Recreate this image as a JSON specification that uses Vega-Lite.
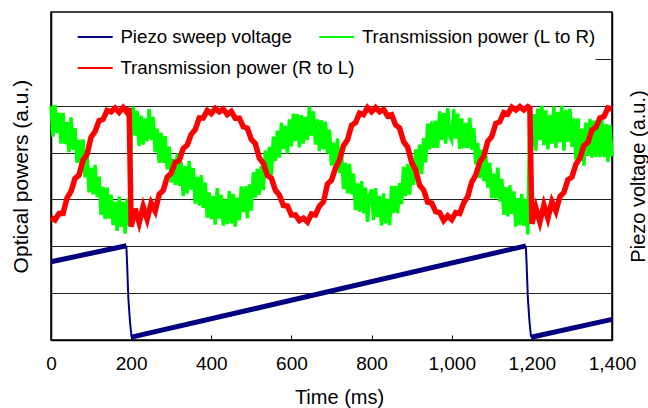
{
 "$schema": "https://vega.github.io/schema/vega-lite/v6.json",
 "width": 561,
 "height": 328,
 "autosize": {"type": "none"},
 "padding": {"left": 51, "top": 12, "right": 36, "bottom": 68},
 "background": "white",
 "config": {
  "view": {"stroke": "black", "strokeWidth": 1.5},
  "font": "Liberation Sans",
  "axis": {"domainColor": "black", "domainWidth": 1.5, "labelColor": "black", "titleColor": "black", "labelFont": "Liberation Sans", "titleFont": "Liberation Sans", "titleFontWeight": "normal", "labelFontSize": 19, "titleFontSize": 20, "gridColor": "#222222", "gridWidth": 1, "gridOpacity": 1}
 },
 "datasets": {
  "piezo": [
   {"seg": "ramp1", "t": 0, "v": 1.67}, {"seg": "ramp1", "t": 188, "v": 2.01},
   {"seg": "drop1", "t": 188, "v": 2.01}, {"seg": "drop1", "t": 190, "v": 1.6}, {"seg": "drop1", "t": 193, "v": 0.9}, {"seg": "drop1", "t": 197, "v": 0.4}, {"seg": "drop1", "t": 201, "v": 0.06},
   {"seg": "ramp2", "t": 201, "v": 0.06}, {"seg": "ramp2", "t": 1185, "v": 2.01},
   {"seg": "drop2", "t": 1185, "v": 2.01}, {"seg": "drop2", "t": 1187, "v": 1.6}, {"seg": "drop2", "t": 1190, "v": 0.9}, {"seg": "drop2", "t": 1194, "v": 0.4}, {"seg": "drop2", "t": 1198, "v": 0.06},
   {"seg": "ramp3", "t": 1198, "v": 0.06}, {"seg": "ramp3", "t": 1400, "v": 0.44}
  ],
  "ltor": [
   {"t":0,"v":4.99},{"t":5,"v":4.34},{"t":10,"v":5.02},{"t":15,"v":4.42},{"t":20,"v":4.85},{"t":25,"v":4.19},{"t":30,"v":4.85},{"t":35,"v":4.18},{"t":40,"v":4.65},{"t":45,"v":4.01},{"t":50,"v":4.75},{"t":55,"v":4.06},{"t":60,"v":4.52},{"t":65,"v":3.78},{"t":70,"v":4.27},{"t":75,"v":3.65},{"t":80,"v":4.28},{"t":85,"v":3.47},{"t":90,"v":3.96},{"t":95,"v":3.15},{"t":100,"v":3.68},{"t":105,"v":3.11},{"t":110,"v":3.74},{"t":115,"v":3.06},{"t":120,"v":3.49},{"t":125,"v":2.67},{"t":130,"v":3.27},{"t":135,"v":2.58},{"t":140,"v":3.25},{"t":145,"v":2.59},{"t":150,"v":3.10},{"t":155,"v":2.45},{"t":160,"v":2.95},{"t":165,"v":2.33},{"t":170,"v":3.06},{"t":175,"v":2.41},{"t":180,"v":2.95},{"t":185,"v":2.27},{"t":190,"v":3.02},{"t":195,"v":2.44},
   {"t":200,"v":4.30},{"t":205,"v":4.98},{"t":210,"v":4.36},{"t":215,"v":4.89},{"t":220,"v":4.14},{"t":225,"v":4.79},{"t":230,"v":4.17},{"t":235,"v":4.73},{"t":240,"v":4.24},{"t":245,"v":4.93},{"t":250,"v":4.27},{"t":255,"v":4.76},{"t":260,"v":4.01},{"t":265,"v":4.51},{"t":270,"v":3.78},{"t":275,"v":4.42},{"t":280,"v":3.78},{"t":285,"v":4.35},{"t":290,"v":3.64},{"t":295,"v":4.13},{"t":300,"v":3.36},{"t":305,"v":3.86},{"t":310,"v":3.31},{"t":315,"v":3.98},{"t":320,"v":3.29},{"t":325,"v":3.79},{"t":330,"v":3.07},{"t":335,"v":3.71},{"t":340,"v":3.13},{"t":345,"v":3.82},{"t":350,"v":3.21},{"t":355,"v":3.67},{"t":360,"v":2.91},{"t":365,"v":3.48},{"t":370,"v":2.87},{"t":375,"v":3.52},{"t":380,"v":2.82},{"t":385,"v":3.36},{"t":390,"v":2.61},{"t":395,"v":3.15},
   {"t":400,"v":2.58},{"t":405,"v":3.07},{"t":410,"v":2.46},{"t":415,"v":3.24},{"t":420,"v":2.59},{"t":425,"v":3.10},{"t":430,"v":2.44},{"t":435,"v":3.00},{"t":440,"v":2.47},{"t":445,"v":3.18},{"t":450,"v":2.49},{"t":455,"v":3.12},{"t":460,"v":2.42},{"t":465,"v":3.04},{"t":470,"v":2.56},{"t":475,"v":3.28},{"t":480,"v":2.73},{"t":485,"v":3.28},{"t":490,"v":2.60},{"t":495,"v":3.32},{"t":500,"v":2.76},{"t":505,"v":3.58},{"t":510,"v":3.04},{"t":515,"v":3.65},{"t":520,"v":3.10},{"t":525,"v":3.71},{"t":530,"v":3.20},{"t":535,"v":4.04},{"t":540,"v":3.49},{"t":545,"v":4.12},{"t":550,"v":3.52},{"t":555,"v":4.34},{"t":560,"v":3.82},{"t":565,"v":4.47},{"t":570,"v":3.89},{"t":575,"v":4.64},{"t":580,"v":4.08},{"t":585,"v":4.57},{"t":590,"v":3.98},{"t":595,"v":4.71},
   {"t":600,"v":4.13},{"t":605,"v":4.83},{"t":610,"v":4.25},{"t":615,"v":4.82},{"t":620,"v":4.11},{"t":625,"v":4.80},{"t":630,"v":4.19},{"t":635,"v":4.76},{"t":640,"v":4.27},{"t":645,"v":4.98},{"t":650,"v":4.36},{"t":655,"v":4.88},{"t":660,"v":4.17},{"t":665,"v":4.71},{"t":670,"v":4.03},{"t":675,"v":4.69},{"t":680,"v":4.07},{"t":685,"v":4.66},{"t":690,"v":3.98},{"t":695,"v":4.49},{"t":700,"v":3.72},{"t":705,"v":4.21},{"t":710,"v":3.65},{"t":715,"v":4.30},{"t":720,"v":3.56},{"t":725,"v":4.01},{"t":730,"v":3.22},{"t":735,"v":3.78},{"t":740,"v":3.13},{"t":745,"v":3.76},{"t":750,"v":3.11},{"t":755,"v":3.55},{"t":760,"v":2.77},{"t":765,"v":3.34},{"t":770,"v":2.74},{"t":775,"v":3.39},{"t":780,"v":2.70},{"t":785,"v":3.25},{"t":790,"v":2.52},{"t":795,"v":3.09},
   {"t":800,"v":3.21},{"t":805,"v":2.56},{"t":810,"v":3.24},{"t":815,"v":2.63},{"t":820,"v":3.07},{"t":825,"v":2.44},{"t":830,"v":3.13},{"t":835,"v":2.49},{"t":840,"v":3.01},{"t":845,"v":2.45},{"t":850,"v":3.29},{"t":855,"v":2.71},{"t":860,"v":3.29},{"t":865,"v":2.70},{"t":870,"v":3.35},{"t":875,"v":2.90},{"t":880,"v":3.70},{"t":885,"v":3.07},{"t":890,"v":3.76},{"t":895,"v":3.10},{"t":900,"v":3.76},{"t":905,"v":3.31},{"t":910,"v":4.07},{"t":915,"v":3.56},{"t":920,"v":4.17},{"t":925,"v":3.54},{"t":930,"v":4.31},{"t":935,"v":3.79},{"t":940,"v":4.62},{"t":945,"v":4.07},{"t":950,"v":4.66},{"t":955,"v":4.10},{"t":960,"v":4.68},{"t":965,"v":4.10},{"t":970,"v":4.88},{"t":975,"v":4.27},{"t":980,"v":4.84},{"t":985,"v":4.19},{"t":990,"v":4.95},{"t":995,"v":4.35},
   {"t":1000,"v":4.26},{"t":1005,"v":4.92},{"t":1010,"v":4.30},{"t":1015,"v":4.83},{"t":1020,"v":4.08},{"t":1025,"v":4.73},{"t":1030,"v":4.09},{"t":1035,"v":4.63},{"t":1040,"v":4.10},{"t":1045,"v":4.74},{"t":1050,"v":4.06},{"t":1055,"v":4.53},{"t":1060,"v":3.75},{"t":1065,"v":4.21},{"t":1070,"v":3.46},{"t":1075,"v":4.06},{"t":1080,"v":3.39},{"t":1085,"v":3.94},{"t":1090,"v":3.25},{"t":1095,"v":3.78},{"t":1100,"v":3.03},{"t":1105,"v":3.55},{"t":1110,"v":3.02},{"t":1115,"v":3.68},{"t":1120,"v":2.96},{"t":1125,"v":3.44},{"t":1130,"v":2.67},{"t":1135,"v":3.26},{"t":1140,"v":2.64},{"t":1145,"v":3.30},{"t":1150,"v":2.69},{"t":1155,"v":3.17},{"t":1160,"v":2.42},{"t":1165,"v":3.03},{"t":1170,"v":2.45},{"t":1175,"v":3.12},{"t":1180,"v":2.44},{"t":1185,"v":3.01},{"t":1190,"v":2.25},
   {"t":1195,"v":4.97},{"t":1200,"v":4.12},{"t":1205,"v":4.82},{"t":1210,"v":4.04},{"t":1215,"v":4.94},{"t":1220,"v":4.27},{"t":1225,"v":5.00},{"t":1230,"v":4.16},{"t":1235,"v":4.90},{"t":1240,"v":4.07},{"t":1245,"v":4.80},{"t":1250,"v":4.19},{"t":1255,"v":4.98},{"t":1260,"v":4.10},{"t":1265,"v":4.87},{"t":1270,"v":4.22},{"t":1275,"v":5.00},{"t":1280,"v":4.04},{"t":1285,"v":4.91},{"t":1290,"v":4.23},{"t":1295,"v":4.94},{"t":1300,"v":4.12},{"t":1305,"v":4.73},{"t":1310,"v":3.85},{"t":1315,"v":4.73},{"t":1320,"v":3.88},{"t":1325,"v":4.51},{"t":1330,"v":3.72},{"t":1335,"v":4.64},{"t":1340,"v":3.93},{"t":1345,"v":4.72},{"t":1350,"v":3.89},{"t":1355,"v":4.68},{"t":1360,"v":3.91},{"t":1365,"v":4.61},{"t":1370,"v":3.90},{"t":1375,"v":4.70},{"t":1380,"v":3.90},{"t":1385,"v":4.61},{"t":1390,"v":3.80},{"t":1395,"v":4.59},{"t":1400,"v":3.92}
  ],
  "rtol": [
   {"t":0,"v":2.61},{"t":10,"v":2.56},{"t":20,"v":2.70},{"t":30,"v":2.70},{"t":40,"v":3.03},{"t":50,"v":3.17},{"t":60,"v":3.45},{"t":70,"v":3.52},{"t":80,"v":3.84},{"t":90,"v":3.96},{"t":100,"v":4.33},{"t":110,"v":4.45},{"t":120,"v":4.68},{"t":130,"v":4.71},{"t":140,"v":4.90},{"t":150,"v":4.87},{"t":160,"v":4.95},{"t":170,"v":4.86},{"t":180,"v":4.96},{"t":190,"v":4.85},{"t":195,"v":4.95},
   {"t":200,"v":2.42},{"t":210,"v":2.80},{"t":220,"v":2.50},{"t":230,"v":2.85},{"t":240,"v":2.58},{"t":250,"v":2.92},{"t":260,"v":2.75},{"t":270,"v":3.11},{"t":280,"v":3.19},{"t":290,"v":3.48},{"t":300,"v":3.56},{"t":310,"v":3.79},{"t":320,"v":3.83},{"t":330,"v":4.09},{"t":340,"v":4.16},{"t":350,"v":4.39},{"t":360,"v":4.49},{"t":370,"v":4.74},{"t":380,"v":4.74},{"t":390,"v":4.90},{"t":400,"v":4.83},{"t":410,"v":4.94},{"t":420,"v":4.87},{"t":430,"v":4.93},{"t":440,"v":4.81},{"t":450,"v":4.88},{"t":460,"v":4.73},{"t":470,"v":4.73},{"t":480,"v":4.55},{"t":490,"v":4.52},{"t":500,"v":4.28},{"t":510,"v":4.19},{"t":520,"v":3.88},{"t":530,"v":3.77},{"t":540,"v":3.51},{"t":550,"v":3.45},{"t":560,"v":3.20},{"t":570,"v":3.09},{"t":580,"v":2.87},{"t":590,"v":2.86},
   {"t":600,"v":2.67},{"t":610,"v":2.67},{"t":620,"v":2.55},{"t":630,"v":2.60},{"t":640,"v":2.52},{"t":650,"v":2.69},{"t":660,"v":2.67},{"t":670,"v":2.86},{"t":680,"v":2.95},{"t":690,"v":3.33},{"t":700,"v":3.41},{"t":710,"v":3.67},{"t":720,"v":3.84},{"t":730,"v":4.15},{"t":740,"v":4.27},{"t":750,"v":4.58},{"t":760,"v":4.64},{"t":770,"v":4.84},{"t":780,"v":4.81},{"t":790,"v":4.96},{"t":800,"v":4.87},{"t":810,"v":4.96},{"t":820,"v":4.87},{"t":830,"v":4.92},{"t":840,"v":4.78},{"t":850,"v":4.81},{"t":860,"v":4.59},{"t":870,"v":4.52},{"t":880,"v":4.23},{"t":890,"v":4.12},{"t":900,"v":3.79},{"t":910,"v":3.63},{"t":920,"v":3.30},{"t":930,"v":3.20},{"t":940,"v":2.94},{"t":950,"v":2.92},{"t":960,"v":2.74},{"t":970,"v":2.72},{"t":980,"v":2.55},{"t":990,"v":2.65},
   {"t":1000,"v":2.57},{"t":1010,"v":2.72},{"t":1020,"v":2.70},{"t":1030,"v":2.93},{"t":1040,"v":3.06},{"t":1050,"v":3.37},{"t":1060,"v":3.52},{"t":1070,"v":3.80},{"t":1080,"v":3.92},{"t":1090,"v":4.24},{"t":1100,"v":4.34},{"t":1110,"v":4.62},{"t":1120,"v":4.66},{"t":1130,"v":4.85},{"t":1140,"v":4.82},{"t":1150,"v":4.97},{"t":1160,"v":4.91},{"t":1170,"v":4.98},{"t":1180,"v":4.91},{"t":1190,"v":4.98},{"t":1195,"v":4.95},
   {"t":1200,"v":2.48},{"t":1210,"v":2.82},{"t":1220,"v":2.52},{"t":1230,"v":2.88},{"t":1240,"v":2.60},{"t":1250,"v":2.95},{"t":1260,"v":2.75},{"t":1270,"v":3.06},{"t":1280,"v":3.15},{"t":1290,"v":3.42},{"t":1300,"v":3.48},{"t":1310,"v":3.75},{"t":1320,"v":3.88},{"t":1330,"v":4.15},{"t":1340,"v":4.22},{"t":1350,"v":4.48},{"t":1360,"v":4.54},{"t":1370,"v":4.74},{"t":1380,"v":4.77},{"t":1390,"v":4.95},{"t":1400,"v":4.93}
  ]
 },
 "encoding": {
  "x": {"field": "t", "type": "quantitative", "scale": {"domain": [0, 1400], "nice": false},
   "axis": {"title": "Time (ms)", "values": [0, 200, 400, 600, 800, 1000, 1200, 1400], "format": ",d", "grid": false, "tickSize": -5, "tickColor": "black", "tickWidth": 1, "labelPadding": 19, "titlePadding": 14, "titleX": 288, "labelFlush": false}}
 },
 "layer": [
  {
   "data": {"name": "piezo"},
   "mark": {"type": "line", "strokeCap": "butt"},
   "encoding": {
    "y": {"field": "v", "type": "quantitative", "scale": {"domain": [0, 7], "nice": false},
     "axis": {"orient": "right", "title": "Piezo voltage (a.u.)", "labels": false, "grid": false, "values": [6], "ticks": true, "tickSize": -17, "tickColor": "#222222", "tickWidth": 1, "titleAngle": 270, "titleBaseline": "top", "titlePadding": 16, "titleFontSize": 20}},
    "detail": {"field": "seg"},
    "color": {"datum": "Piezo sweep voltage", "type": "nominal",
     "scale": {"domain": ["Piezo sweep voltage", "Transmission power (L to R)"], "range": ["#000080", "#00ff00"]},
     "legend": {"title": null, "orient": "none", "legendX": 20.7, "legendY": 1.2, "direction": "horizontal", "symbolType": "stroke", "symbolSize": 1225, "symbolStrokeWidth": 2, "labelFontSize": 18.7, "labelFont": "Liberation Sans", "labelColor": "black", "labelOffset": 6.7, "columnPadding": 22.5, "padding": 5, "labelLimit": 0}},
    "strokeWidth": {"condition": {"test": "indexof(datum.seg, 'drop') == 0", "value": 2}, "value": 5}
   }
  },
  {
   "layer": [
    {
     "data": {"name": "ltor"},
     "mark": {"type": "line", "strokeWidth": 3.5},
     "encoding": {
      "y": {"field": "v", "type": "quantitative", "scale": {"domain": [0, 7], "nice": false},
       "axis": {"title": "Optical powers (a.u.)", "labels": false, "ticks": false, "grid": true, "values": [1, 2, 3, 4, 5], "titlePadding": 20, "titleFontSize": 21}},
      "color": {"datum": "Transmission power (L to R)", "type": "nominal"}
     }
    },
    {
     "data": {"name": "rtol"},
     "mark": {"type": "line", "strokeWidth": 5.5},
     "encoding": {
      "y": {"field": "v", "type": "quantitative", "scale": {"domain": [0, 7], "nice": false},
       "axis": {"title": "Optical powers (a.u.)", "labels": false, "ticks": false, "grid": true, "values": [1, 2, 3, 4, 5], "titlePadding": 20, "titleFontSize": 21}},
      "stroke": {"datum": "Transmission power (R to L)", "type": "nominal",
       "scale": {"domain": ["Transmission power (R to L)"], "range": ["#ff0000"]},
       "legend": {"title": null, "orient": "none", "legendX": 20.7, "legendY": 32.5, "direction": "horizontal", "symbolType": "stroke", "symbolSize": 1225, "symbolStrokeWidth": 2, "labelFontSize": 18.7, "labelFont": "Liberation Sans", "labelColor": "black", "labelOffset": 6.7, "padding": 5, "labelLimit": 0}}
     }
    }
   ]
  }
 ],
 "resolve": {"scale": {"y": "independent"}}
}
